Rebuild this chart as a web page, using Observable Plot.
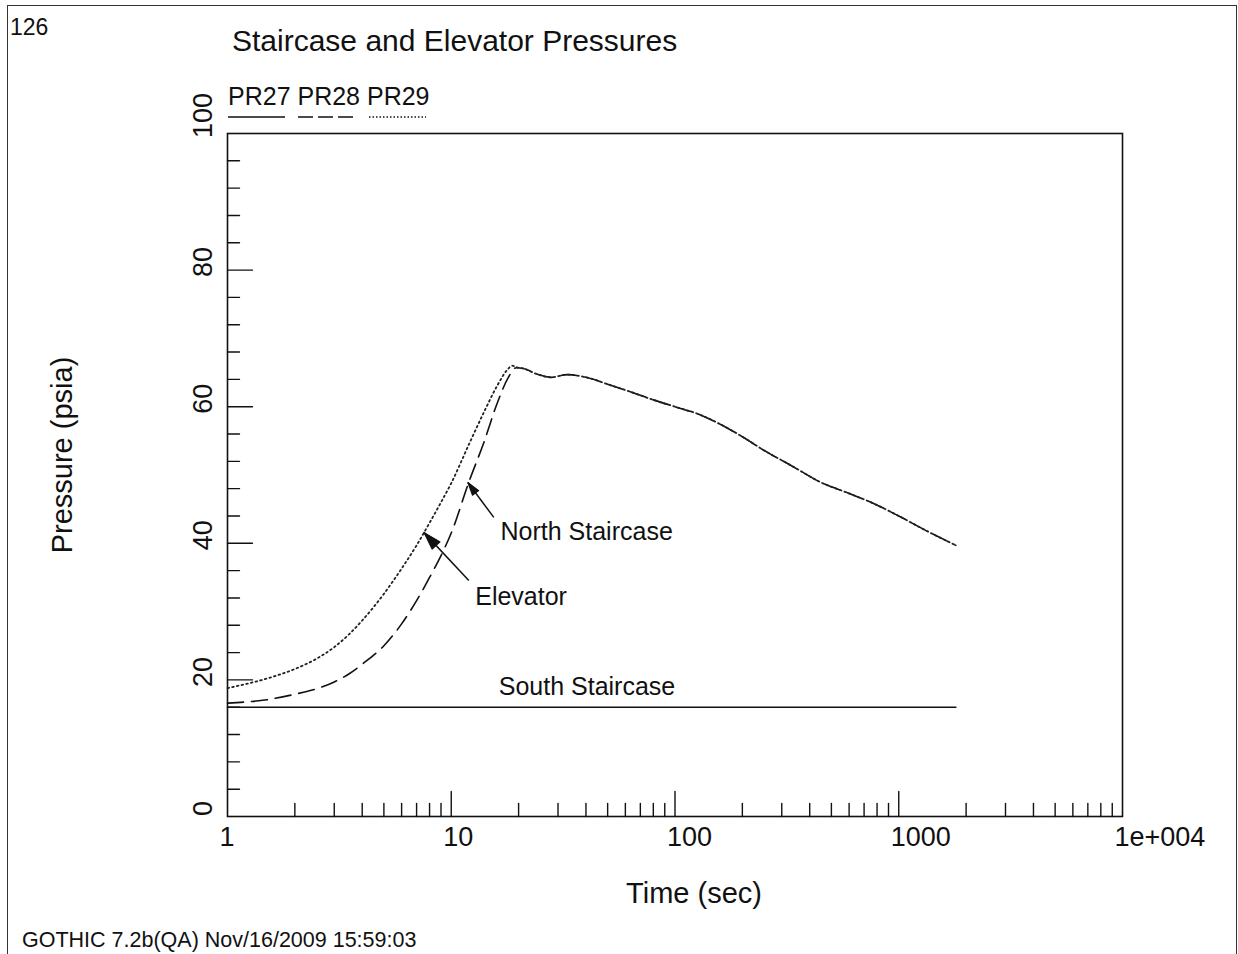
<!DOCTYPE html>
<html><head><meta charset="utf-8">
<script src="https://cdn.jsdelivr.net/npm/d3@7"></script>
<script src="https://cdn.jsdelivr.net/npm/@observablehq/plot@0.6"></script>
<style>
body{margin:0;background:#fff;font-family:"Liberation Sans",Arial,sans-serif;}
#wrap{position:relative;width:1238px;height:954px;overflow:hidden;background:#fff;}
#wrap svg{position:absolute;left:0;top:0;}
.t{position:absolute;white-space:nowrap;color:#111;line-height:1;}
#border{position:absolute;left:7px;top:5px;width:1228px;height:1000px;border:1.5px solid #333;border-bottom:none;}
</style></head><body>
<div id="wrap">
  <div id="border"></div>
  <div class="t" style="left:10px;top:16px;font-size:23px">126</div>
  <div class="t" style="left:232px;top:26px;font-size:30px">Staircase and Elevator Pressures</div>
  <div class="t" style="left:228px;top:84px;font-size:25px">PR27 PR28 PR29</div>
  <svg id="legend" width="1238" height="954" style="pointer-events:none">
    <line x1="228" x2="285" y1="117" y2="117" stroke="#111" stroke-width="1.5"/>
    <line x1="298" x2="358" y1="117" y2="117" stroke="#111" stroke-width="1.5" stroke-dasharray="15,5"/>
    <line x1="369" x2="426" y1="117" y2="117" stroke="#111" stroke-width="1.5" stroke-dasharray="1.5,2"/>
  </svg>
  <div class="t" style="left:694px;top:893px;font-size:29px;transform:translate(-50%,-50%)">Time (sec)</div>
  <div class="t" style="left:62px;top:455px;font-size:29px;transform:translate(-50%,-50%) rotate(-90deg)">Pressure (psia)</div>
  <div class="t" style="left:22px;top:930px;font-size:21.5px">GOTHIC 7.2b(QA) Nov/16/2009 15:59:03</div>
</div>
<script>
// ---- data ----
const timeSouth = [1, 1800];
const pSouth    = [16.0, 16.0];

const timeNorthRise = [1, 1.5, 2, 2.5, 3, 3.5, 4, 5, 6, 7, 8, 9, 10, 12, 14, 16, 18, 19.5];
const pNorthRise    = [16.6, 17.1, 17.9, 18.7, 19.7, 20.9, 22.3, 25.0, 28.2, 31.6, 35.0, 38.2, 41.5, 49.0, 54.8, 60.4, 64.3, 65.7];

const timeElevRise = [1, 1.5, 2, 2.5, 3, 3.5, 4, 5, 6, 7, 8, 9, 10, 12, 14, 16, 17.8, 18.7, 19.5];
const pElevRise    = [18.8, 20.2, 21.6, 23.1, 24.8, 26.7, 28.7, 32.6, 36.3, 39.7, 43.0, 46.0, 48.8, 54.5, 59.2, 63.0, 65.4, 66.0, 65.8];

const timeTail = [21, 24, 28, 33, 40, 50, 63, 80, 100, 130, 160, 200, 250, 330, 450, 600, 775, 1000, 1300, 1800];
const pTail    = [65.6, 64.8, 64.3, 64.7, 64.3, 63.3, 62.2, 61.0, 60.0, 58.8, 57.4, 55.6, 53.6, 51.4, 48.9, 47.3, 45.8, 44.0, 42.0, 39.7];

const xTickValues = [1, 10, 100, 1000, 10000];
const xTickLabels = ["1", "10", "100", "1000", "1e+004"];
const yTickValues = [0, 20, 40, 60, 80];
const yTopTick = [100];

const labelText = ["North Staircase", "Elevator", "South Staircase"];
const labelX = [16.6, 12.8, 16.3];
const labelY = [41.7, 32.2, 18.9];

const arrowX1 = [15.49, 11.98];
const arrowY1 = [43.8, 34.55];
const arrowX2 = [11.86, 7.54];
const arrowY2 = [48.9, 41.6];
const arrowHead = [13, 18];

// ---- derived tables ----
const south = timeSouth.map((t, i) => ({t, p: pSouth[i]}));
const north = timeNorthRise.map((t, i) => ({t, p: pNorthRise[i]}))
  .concat(timeTail.map((t, i) => ({t, p: pTail[i]})));
const elev = timeElevRise.map((t, i) => ({t, p: pElevRise[i]}))
  .concat(timeTail.map((t, i) => ({t, p: pTail[i]})));

const xMajor = [10, 100, 1000];
const xMinor = [];
for (const d of [1, 10, 100, 1000]) for (let k = 2; k <= 9; k++) xMinor.push(d * k);
const yMajor = [20, 40, 60, 80];
const yMinor = d3.range(4, 100, 4).filter(v => v % 20 !== 0);

const labels = labelText.map((s, i) => ({s, x: labelX[i], y: labelY[i]}));
const arrows = arrowX1.map((x1, i) => ({x1, y1: arrowY1[i], x2: arrowX2[i], y2: arrowY2[i], h: arrowHead[i]}));

const lineShape = {draw(c, l) { c.moveTo(0, 0); c.lineTo(0, -l); }};
const headShape = {draw(c, l) { const w = l * 0.3; c.moveTo(-w, 0); c.lineTo(0, -l); c.lineTo(w, 0); c.closePath(); }};

function build(extra) {
  return Plot.plot({
    width: 1238, height: 954,
    marginLeft: 227, marginRight: 116, marginTop: 133, marginBottom: 138,
    x: {type: "log", domain: [1, 10000], axis: null},
    y: {domain: [0, 100], axis: null},
    style: {fontFamily: "Liberation Sans, Arial, sans-serif", background: "transparent", color: "#111"},
    marks: [
      Plot.vector(yMinor, {x: 1, y: d => d, length: 12, rotate: 90, anchor: "start", shape: lineShape, strokeWidth: 1.4, stroke: "#111"}),
      Plot.vector(yMajor, {x: 1, y: d => d, length: 25, rotate: 90, anchor: "start", shape: lineShape, strokeWidth: 1.4, stroke: "#111"}),
      Plot.vector(xMinor, {x: d => d, y: 0, length: 13, rotate: 0, anchor: "start", shape: lineShape, strokeWidth: 1.4, stroke: "#111"}),
      Plot.vector(xMajor, {x: d => d, y: 0, length: 25, rotate: 0, anchor: "start", shape: lineShape, strokeWidth: 1.4, stroke: "#111"}),
      Plot.frame({stroke: "#111", strokeWidth: 1.6}),
      Plot.text(xTickValues, {x: d => d, y: 0, text: (d, i) => xTickLabels[i], dy: 21, dx: -8, textAnchor: "start", fontSize: 27, fill: "#111"}),
      Plot.text(yTickValues, {x: 1, y: d => d, text: d => String(d), rotate: -90, dx: -24, dy: -8, fontSize: 27, fill: "#111"}),
      Plot.text(yTopTick, {x: 1, y: d => d, text: d => String(d), rotate: -90, dx: -24, dy: -18, fontSize: 27, fill: "#111"}),
      Plot.line(south, {x: "t", y: "p", stroke: "#111", strokeWidth: 1.6}),
      Plot.line(north, {x: "t", y: "p", stroke: "#111", strokeWidth: 1.6, strokeDasharray: "16,8", curve: "monotone-x"}),
      Plot.line(elev, {x: "t", y: "p", stroke: "#222", strokeWidth: 1.8, strokeDasharray: "1.6,3.2", curve: "monotone-x"}),
      Plot.text(labels, {x: "x", y: "y", text: "s", textAnchor: "start", fontSize: 25, fill: "#111"}),
      Plot.link(arrows, {x1: "x1", y1: "y1", x2: "x2", y2: "y2", stroke: "#111", strokeWidth: 1.5}),
      ...extra
    ]
  });
}

const base = build([]);
const sx = base.scale("x"), sy = base.scale("y");
arrows.forEach(a => {
  const dx = sx.apply(a.x2) - sx.apply(a.x1);
  const dy = sy.apply(a.y2) - sy.apply(a.y1);
  a.angle = Math.atan2(dx, -dy) * 180 / Math.PI;
});
const heads = arrows.map((a, i) =>
  Plot.vector([a], {x: "x2", y: "y2", rotate: "angle", length: a.h, anchor: "end", shape: headShape, fill: "#111", stroke: "#111", strokeWidth: 1})
);
const chart = build(heads);
document.getElementById("wrap").appendChild(chart);
</script>
</body></html>
